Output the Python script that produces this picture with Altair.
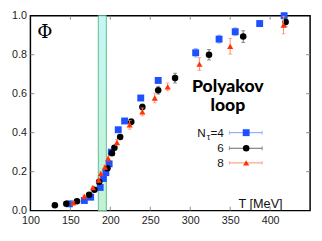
import altair as alt
import pandas as pd

# ---- data ----
blue_T = [148.8, 167.5, 175.4, 187.3, 191.3, 194.4, 198.5, 201.2, 209.9, 217.9, 238.1, 259.9, 306.8, 336.1, 356.3, 386.9, 417.5]
blue_P = [0.035, 0.052, 0.069, 0.119, 0.165, 0.195, 0.24, 0.30, 0.415, 0.46, 0.578, 0.668, 0.81, 0.88, 0.918, 0.96, 1.0]
blue_E = [0.005, 0.005, 0.006, 0.008, 0.008, 0.008, 0.01, 0.01, 0.01, 0.012, 0.012, 0.015, 0.022, 0.02, 0.02, 0.015, 0.015]

black_T = [130.6, 144.9, 158.3, 173.5, 180.1, 186.1, 196.4, 202.0, 205.1, 212.3, 226.2, 240.1, 259.9, 281.0, 323.5, 366.3, 419.4]
black_P = [0.028, 0.035, 0.048, 0.082, 0.107, 0.148, 0.218, 0.295, 0.323, 0.378, 0.456, 0.532, 0.618, 0.68, 0.80, 0.893, 0.968]
black_E = [0.004, 0.004, 0.005, 0.006, 0.006, 0.008, 0.01, 0.01, 0.01, 0.012, 0.015, 0.015, 0.02, 0.025, 0.027, 0.03, 0.025]

red_T = [153.6, 167.5, 178.2, 185.4, 188.1, 193.2, 197.3, 208.3, 224.2, 240.1, 255.6, 271.8, 311.5, 350.0, 416.7]
red_P = [0.04, 0.073, 0.118, 0.157, 0.19, 0.223, 0.268, 0.35, 0.44, 0.507, 0.578, 0.635, 0.752, 0.843, 0.952]
red_E = [0.006, 0.007, 0.008, 0.01, 0.01, 0.01, 0.012, 0.015, 0.022, 0.02, 0.025, 0.02, 0.033, 0.04, 0.045]

band = [185, 195]
x_ticks = [100, 150, 200, 250, 300, 350, 400]
y_ticks = [0.0, 0.2, 0.4, 0.6, 0.8, 1.0]
inner_x_ticks = [150, 200, 250, 300, 350, 400]
inner_y_ticks = [0.2, 0.4, 0.6, 0.8]

legend_labels = ["=4", "6", "8"]
legend_P = [0.40, 0.32, 0.245]
legend_x = [349, 370, 390]   # line start, marker, line end
legend_label_x = 342

W, H = 287, 200
xs = alt.Scale(domain=[100, 450], nice=False, zero=False)
ys = alt.Scale(domain=[0, 1], nice=False)

axis_common = dict(labelFontSize=11, labelFont="Liberation Sans", labelColor="#222", ticks=False,
                   domain=False, grid=False, title=None, labelPadding=4, labelOverlap=False,
                   labelBound=False, labelFlush=False)
x_axis = alt.Axis(values=x_ticks, **axis_common)
y_axis = alt.Axis(values=y_ticks, format=".1f", **axis_common)


def X(f):
    return alt.X(f, scale=xs, axis=x_axis)


def Y(f):
    return alt.Y(f, scale=ys, axis=y_axis)


series = [
    ("4", blue_T, blue_P, blue_E, "#1e50ff", "#7f9bff", "square", 50),
    ("6", black_T, black_P, black_E, "#000000", "#666666", "circle", 45),
    ("8", red_T, red_P, red_E, "#ff3300", "#ff8a70", "triangle-up", 40),
]

layers = []

# band
band_df = pd.DataFrame({"a": [band[0]], "b": [band[1]], "y0": [0.0], "y1": [1.0]})
layers.append(
    alt.Chart(band_df).mark_rect(
        fill=alt.Gradient(gradient="linear", x1=0, x2=0, y1=0, y2=1,
                          stops=[alt.GradientStop(color="#c6f6f6", offset=0),
                                 alt.GradientStop(color="#c2f2d4", offset=1)]),
        stroke="#5cbf8a", strokeWidth=1,
    ).encode(x=X("a:Q"), x2="b:Q", y=Y("y0:Q"), y2="y1:Q")
)

# inner ticks
tx = pd.DataFrame({"t": inner_x_ticks})
ty = pd.DataFrame({"t": inner_y_ticks})
tick_col = "#888888"
layers.append(alt.Chart(tx).mark_rule(color=tick_col, strokeWidth=1).encode(
    x=X("t:Q"), y=alt.value(H), y2=alt.value(H - 4)))
layers.append(alt.Chart(tx).mark_rule(color=tick_col, strokeWidth=1).encode(
    x=X("t:Q"), y=alt.value(0), y2=alt.value(4)))
layers.append(alt.Chart(ty).mark_rule(color=tick_col, strokeWidth=1).encode(
    y=Y("t:Q"), x=alt.value(0), x2=alt.value(4)))
layers.append(alt.Chart(ty).mark_rule(color=tick_col, strokeWidth=1).encode(
    y=Y("t:Q"), x=alt.value(W), x2=alt.value(W - 4)))

# series
for name, T, P, E, col, ecol, shape, size in series:
    df = pd.DataFrame({"T": T, "P": P, "E": E})
    df["lo"] = df["P"] - df["E"]
    df["hi"] = df["P"] + df["E"]
    base = alt.Chart(df)
    layers.append(base.mark_rule(color=ecol, strokeWidth=1).encode(
        x=X("T:Q"), y=Y("lo:Q"), y2="hi:Q"))
    layers.append(base.mark_tick(color=ecol, orient="horizontal", size=4, thickness=1).encode(
        x=X("T:Q"), y=Y("lo:Q")))
    layers.append(base.mark_tick(color=ecol, orient="horizontal", size=4, thickness=1).encode(
        x=X("T:Q"), y=Y("hi:Q")))
    layers.append(base.mark_point(shape=shape, filled=True, color=col, size=size, opacity=1).encode(
        x=X("T:Q"), y=Y("P:Q")))

# legend
for i, (name, T, P, E, col, ecol, shape, size) in enumerate(series):
    ld = pd.DataFrame({"x0": [legend_x[0]], "xm": [legend_x[1]], "x1": [legend_x[2]], "y": [legend_P[i]],
                       "lab": [legend_labels[i]], "lx": [legend_label_x]})
    b = alt.Chart(ld)
    layers.append(b.mark_rule(color=ecol, strokeWidth=1).encode(
        x=X("x0:Q"), x2="x1:Q", y=Y("y:Q")))
    layers.append(b.mark_tick(color=ecol, orient="vertical", size=4, thickness=1).encode(
        x=X("x0:Q"), y=Y("y:Q")))
    layers.append(b.mark_tick(color=ecol, orient="vertical", size=4, thickness=1).encode(
        x=X("x1:Q"), y=Y("y:Q")))
    layers.append(b.mark_point(shape=shape, filled=True, color=col, size=size, opacity=1).encode(
        x=X("xm:Q"), y=Y("y:Q")))
    layers.append(b.mark_text(align="right", baseline="middle", fontSize=12, font="Liberation Sans",
                              color="#111").encode(
        x=X("lx:Q"), y=Y("y:Q"), text="lab:N"))
    if i == 0:
        layers.append(b.mark_text(align="right", baseline="middle", fontSize=9, font="Liberation Sans",
                                  color="#111", dx=-14, dy=4).encode(
            x=X("lx:Q"), y=Y("y:Q"), text=alt.value("τ")))
        layers.append(b.mark_text(align="right", baseline="middle", fontSize=12, font="Liberation Sans",
                                  color="#111", dx=-18.5).encode(
            x=X("lx:Q"), y=Y("y:Q"), text=alt.value("N")))

# texts
poly = pd.DataFrame({"x": [347, 347], "y": [0.635, 0.535], "t": ["Polyakov", "loop"]})
layers.append(alt.Chart(poly).mark_text(font="Lato", fontWeight=900, fontSize=18, color="#000",
                                        baseline="middle", align="center").encode(
    x=X("x:Q"), y=Y("y:Q"), text="t:N"))
phi = pd.DataFrame({"x": [118], "y": [0.915], "t": ["Φ"]})
layers.append(alt.Chart(phi).mark_text(font="DejaVu Serif", fontSize=19, color="#000",
                                       baseline="middle", align="center").encode(
    x=X("x:Q"), y=Y("y:Q"), text="t:N"))
tl = pd.DataFrame({"x": [388], "y": [0.035], "t": ["T [MeV]"]})
layers.append(alt.Chart(tl).mark_text(font="Liberation Sans", fontSize=13, color="#111",
                                      baseline="middle", align="center").encode(
    x=X("x:Q"), y=Y("y:Q"), text="t:N"))

chart = alt.layer(*layers).properties(
    width=W, height=H,
    autosize=alt.AutoSizeParams(type="none"),
    padding={"left": 23, "top": 5, "right": 4, "bottom": 20},
).configure_view(stroke="#000", strokeWidth=1.5)

chart.save("out.html", embed_options={"renderer": "svg", "actions": False})
